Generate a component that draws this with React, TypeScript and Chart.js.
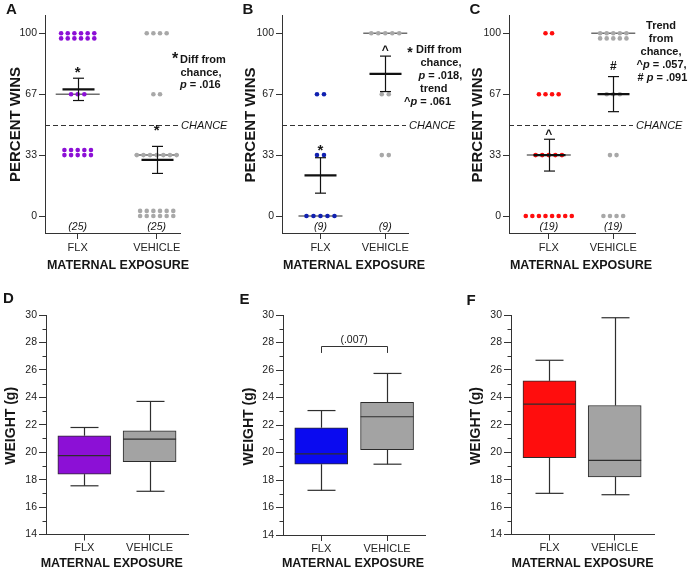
import React, { useEffect, useRef } from 'react';
import { Chart, registerables } from 'chart.js';

Chart.register(...registerables);

const PAGE_W = 688;
const PAGE_H = 570;
const FONT = '"Liberation Sans", Arial, Helvetica, sans-serif';
const INK = '#161616';
const AXIS = '#333333';
const VEH_GRAY_DOT = '#a8a8a8';
const VEH_GRAY_BOX = '#a3a3a3';
const PURPLE = '#8c10d6';
const BLUE_DOT = '#1020b0';
const BLUE_BOX = '#0a0af0';
const RED = '#ff0d0d';

// ---------- shared text ----------
const CATEGORIES = ['FLX', 'VEHICLE'];
const X_TITLE = 'MATERNAL EXPOSURE';
const TOP_Y_TITLE = 'PERCENT WINS';
const BOTTOM_Y_TITLE = 'WEIGHT (g)';

// ---------- top row: percent wins ----------
const OUTCOME_VALUES = [0, 33.33, 66.67, 100];
const OUTCOME_TICK_LABELS = ['0', '33', '67', '100'];
const CHANCE_LEVEL = 50;
const CHANCE_LABEL = 'CHANCE';

// number of animals at each outcome value (0, 33, 67, 100)
const A_FLX_COUNTS = [0, 10, 3, 12];
const A_VEH_COUNTS = [12, 7, 2, 4];
const A_MEANS = [69.3, 30.7];
const A_SEMS = [6.1, 7.4];
const A_MEDIANS = [66.67, 33.33];
const A_N_LABELS = ['(25)', '(25)'];
const A_MARKERS: [number, number, string][] = [[0, 80.8, '*'], [1, 48.9, '*']];

const B_FLX_COUNTS = [5, 2, 2, 0];
const B_VEH_COUNTS = [0, 2, 2, 5];
const B_MEANS = [22.2, 77.8];
const B_SEMS = [9.7, 9.7];
const B_MEDIANS = [0, 100];
const B_N_LABELS = ['(9)', '(9)'];
const B_MARKERS: [number, number, string][] = [[0, 37.9, '*'], [1, 91.9, '^']];

const C_FLX_COUNTS = [8, 5, 4, 2];
const C_VEH_COUNTS = [4, 2, 3, 10];
const C_MEANS = [33.3, 66.7];
const C_SEMS = [8.7, 9.6];
const C_MEDIANS = [33.33, 100];
const C_N_LABELS = ['(19)', '(19)'];
const C_MARKERS: [number, number, string][] = [[0, 46.1, '^'], [1, 82.3, '#']];

type Run = { t: string; i?: boolean };
const A_NOTE: Run[][] = [[{ t: 'Diff from' }], [{ t: 'chance,' }], [{ t: 'p', i: true }, { t: ' = .016' }]];
const B_NOTE: Run[][] = [
  [{ t: 'Diff from' }],
  [{ t: 'chance,' }],
  [{ t: 'p', i: true }, { t: ' = .018,' }],
  [{ t: 'trend' }],
  [{ t: '^' }, { t: 'p', i: true }, { t: ' = .061' }],
];
const C_NOTE: Run[][] = [
  [{ t: 'Trend' }],
  [{ t: 'from' }],
  [{ t: 'chance,' }],
  [{ t: '^' }, { t: 'p', i: true }, { t: ' = .057,' }],
  [{ t: '# ' }, { t: 'p', i: true }, { t: ' = .091' }],
];

// ---------- bottom row: weight box plots [min, q1, median, q3, max] ----------
const D_FLX_BOX = [17.55, 18.4, 19.75, 21.2, 21.8];
const D_VEH_BOX = [17.15, 19.3, 20.95, 21.55, 23.7];
const E_FLX_BOX = [17.25, 19.15, 19.9, 21.8, 23.05];
const E_VEH_BOX = [19.15, 20.2, 22.6, 23.65, 25.75];
const F_FLX_BOX = [17.0, 19.6, 23.5, 25.2, 26.7];
const F_VEH_BOX = [16.9, 18.2, 19.4, 23.4, 29.8];
const WEIGHT_MIN = 14;
const WEIGHT_MAX = 30;
const WEIGHT_STEP = 2;
const E_BRACKET_LABEL = '(.007)';
const E_BRACKET_LEVEL = 27.72;
const E_BRACKET_LEG_END = 27.24;
const E_BRACKET_LABEL_LEVEL = 28.2;

// ---------- helpers ----------
const TOP_Y_RANGE = [-9.3, 110];
const ROW_GAP = 2.8;
const MAX_ROW = 8;
const Y_AXIS_W = 40;
const X_AXIS_H = 28;

function dotsFor(counts: number[], cat: number, step: number) {
  const pts: { x: number; y: number }[] = [];
  counts.forEach((n, k) => {
    if (!n) return;
    const v = OUTCOME_VALUES[k];
    const first = n > MAX_ROW ? Math.ceil(n / 2) : n;
    const rows = n > MAX_ROW ? [first, n - first] : [n];
    rows.forEach((len, r) => {
      const y = v + r * (v > CHANCE_LEVEL ? -ROW_GAP : ROW_GAP);
      for (let j = 0; j < len; j++) pts.push({ x: cat + (j - (len - 1) / 2) * step, y });
    });
  });
  return pts;
}

function line(ctx: CanvasRenderingContext2D, x1: number, y1: number, x2: number, y2: number) {
  ctx.beginPath();
  ctx.moveTo(x1, y1);
  ctx.lineTo(x2, y2);
  ctx.stroke();
}

function drawRuns(ctx: CanvasRenderingContext2D, x: number, y: number, runs: Run[], size: number, align: 'left' | 'center' = 'left') {
  ctx.save();
  ctx.fillStyle = INK;
  ctx.textBaseline = 'middle';
  ctx.textAlign = 'left';
  const fonts = runs.map((r) => `${r.i ? 'italic ' : ''}bold ${size}px ${FONT}`);
  let total = 0;
  runs.forEach((r, k) => {
    ctx.font = fonts[k];
    total += ctx.measureText(r.t).width;
  });
  let cx = align === 'center' ? x - total / 2 : x;
  runs.forEach((r, k) => {
    ctx.font = fonts[k];
    ctx.fillText(r.t, cx, y);
    cx += ctx.measureText(r.t).width;
  });
  ctx.restore();
}

const GLYPH_CENTER: Record<string, number> = { '*': 0.56, '^': 0.52, '#': 0.36 };
function drawGlyph(ctx: CanvasRenderingContext2D, ch: string, xc: number, yc: number, size: number) {
  ctx.save();
  ctx.fillStyle = INK;
  ctx.font = `bold ${size}px ${FONT}`;
  ctx.textAlign = 'center';
  ctx.textBaseline = 'alphabetic';
  ctx.fillText(ch, xc, yc + (GLYPH_CENTER[ch] ?? 0.36) * size);
  ctx.restore();
}

function drawText(ctx: CanvasRenderingContext2D, text: string, x: number, y: number, font: string, align: CanvasTextAlign = 'center', rotate = false) {
  ctx.save();
  ctx.fillStyle = INK;
  ctx.font = font;
  ctx.textAlign = align;
  ctx.textBaseline = 'middle';
  ctx.translate(x, y);
  if (rotate) ctx.rotate(-Math.PI / 2);
  ctx.fillText(text, 0, 0);
  ctx.restore();
}

type Area = [number, number, number, number]; // left, right, top, bottom

function baseScales(xRange: number[], yRange: number[], yTickLen: number, xLabelPad: number) {
  return {
    x: {
      type: 'linear',
      min: xRange[0],
      max: xRange[1],
      offset: false,
      afterFit: (s: any) => {
        s.height = X_AXIS_H;
      },
      afterBuildTicks: (s: any) => {
        s.ticks = CATEGORIES.map((_, i) => ({ value: i }));
      },
      ticks: {
        callback: (v: any) => CATEGORIES[Math.round(Number(v))],
        font: { family: FONT, size: 11 },
        color: '#222',
        padding: xLabelPad,
        maxRotation: 0,
        autoSkip: false,
      },
      grid: { drawOnChartArea: false, tickLength: 6, color: AXIS, offset: false },
      border: { color: AXIS, width: 1 },
    },
    y: {
      type: 'linear',
      min: yRange[0],
      max: yRange[1],
      afterFit: (s: any) => {
        s.width = Y_AXIS_W;
      },
      ticks: {
        font: { family: FONT, size: 10.5 },
        color: '#222',
        padding: 2,
        autoSkip: false,
      },
      grid: { drawOnChartArea: false, tickLength: yTickLen, color: AXIS },
      border: { color: AXIS, width: 1 },
    },
  } as any;
}

function commonOptions(area: Area) {
  return {
    animation: false,
    responsive: false,
    events: [],
    layout: {
      autoPadding: false,
      padding: {
        left: area[0] - Y_AXIS_W,
        right: PAGE_W - area[1],
        top: area[2],
        bottom: PAGE_H - area[3] - X_AXIS_H,
      },
    },
    plugins: { legend: { display: false }, tooltip: { enabled: false }, title: { display: false } },
  } as any;
}

type DotSpec = {
  area: Area;
  xRange: number[];
  dotStep: number;
  counts: number[][];
  colors: string[];
  means: number[];
  sems: number[];
  medians: number[];
  nLabels: string[];
  markers: [number, number, string][];
  note: Run[][];
  notePos: [number, number, 'left' | 'center'][];
  noteStar?: [number, number, number];
  letter: string;
  letterPos: [number, number];
  yTitlePos: [number, number];
  xTitlePos: [number, number];
};

function dotConfig(p: DotSpec) {
  const scales = baseScales(p.xRange, TOP_Y_RANGE, 6, 2.5);
  scales.y.afterBuildTicks = (s: any) => {
    s.ticks = OUTCOME_VALUES.map((v) => ({ value: v }));
  };
  scales.y.ticks.callback = (_v: any, i: number) => OUTCOME_TICK_LABELS[i];
  const plugin = {
    id: 'dotExtras' + p.letter,
    beforeDatasetsDraw(chart: any) {
      const { ctx, chartArea } = chart;
      const x = chart.scales.x;
      const y = chart.scales.y;
      ctx.save();
      ctx.strokeStyle = AXIS;
      ctx.lineWidth = 1;
      ctx.setLineDash([5, 3]);
      const yc = Math.round(y.getPixelForValue(CHANCE_LEVEL)) + 0.5;
      line(ctx, chartArea.left, yc, chartArea.right - 2, yc);
      ctx.setLineDash([]);
      ctx.strokeStyle = '#6e6e6e';
      ctx.lineWidth = 1.5;
      p.medians.forEach((m, i) => {
        const cx = x.getPixelForValue(i);
        const py = y.getPixelForValue(m);
        line(ctx, cx - 22, py, cx + 22, py);
      });
      ctx.restore();
      drawText(ctx, CHANCE_LABEL, chartArea.right + 1, yc, `italic 11px ${FONT}`, 'left');
    },
    afterDatasetsDraw(chart: any) {
      const { ctx, chartArea } = chart;
      const x = chart.scales.x;
      const y = chart.scales.y;
      ctx.save();
      ctx.strokeStyle = '#111';
      p.means.forEach((m, i) => {
        const cx = Math.round(x.getPixelForValue(i)) + 0.5;
        const top = y.getPixelForValue(m + p.sems[i]);
        const bot = y.getPixelForValue(m - p.sems[i]);
        ctx.lineWidth = 1.2;
        line(ctx, cx, top, cx, bot);
        line(ctx, cx - 5.5, top, cx + 5.5, top);
        line(ctx, cx - 5.5, bot, cx + 5.5, bot);
        ctx.lineWidth = 2.2;
        const py = y.getPixelForValue(m);
        line(ctx, cx - 16, py, cx + 16, py);
      });
      ctx.restore();
      p.nLabels.forEach((t, i) => {
        drawText(ctx, t, x.getPixelForValue(i), chartArea.bottom - 5.5, `italic 10.5px ${FONT}`);
      });
      p.markers.forEach(([cat, v, ch]) => {
        drawGlyph(ctx, ch, x.getPixelForValue(cat), y.getPixelForValue(v), ch === '*' ? 15 : 12);
      });
    },
    afterDraw(chart: any) {
      const { ctx } = chart;
      if (p.noteStar) drawGlyph(ctx, '*', p.noteStar[0], p.noteStar[1], p.noteStar[2]);
      p.note.forEach((runs, k) => {
        const [nx, ny, al] = p.notePos[k];
        drawRuns(ctx, nx, ny, runs, 11, al);
      });
      drawText(ctx, p.letter, p.letterPos[0], p.letterPos[1], `bold 15px ${FONT}`, 'left');
      drawText(ctx, TOP_Y_TITLE, p.yTitlePos[0], p.yTitlePos[1], `bold 15px ${FONT}`, 'center', true);
      drawText(ctx, X_TITLE, p.xTitlePos[0], p.xTitlePos[1], `bold 12.5px ${FONT}`);
    },
  };
  return {
    type: 'scatter',
    data: {
      datasets: p.counts.map((c, i) => ({
        data: dotsFor(c, i, p.dotStep),
        pointRadius: 2.3,
        pointHoverRadius: 2.3,
        pointBorderWidth: 0,
        pointBackgroundColor: p.colors[i],
        clip: false,
      })),
    },
    options: { ...commonOptions(p.area), scales },
    plugins: [plugin],
  } as any;
}

type BoxSpec = {
  area: Area;
  xRange: number[];
  boxes: number[][];
  colors: string[];
  letter: string;
  letterPos: [number, number];
  yTitlePos: [number, number];
  xTitlePos: [number, number];
  bracket?: boolean;
};

function boxConfig(p: BoxSpec) {
  const scales = baseScales(p.xRange, [WEIGHT_MIN, WEIGHT_MAX], 7, 1);
  scales.y.ticks.stepSize = WEIGHT_STEP;
  const plugin = {
    id: 'boxExtras' + p.letter,
    afterDatasetsDraw(chart: any) {
      const { ctx, chartArea } = chart;
      const y = chart.scales.y;
      const x = chart.scales.x;
      const meta = chart.getDatasetMeta(0);
      ctx.save();
      ctx.strokeStyle = '#2e2e2e';
      ctx.lineWidth = 1.2;
      p.boxes.forEach((b, i) => {
        const el = meta.data[i];
        const cx = Math.round(el.x) + 0.5;
        const half = el.width / 2;
        const yMin = y.getPixelForValue(b[0]);
        const yQ1 = y.getPixelForValue(b[1]);
        const yMed = y.getPixelForValue(b[2]);
        const yQ3 = y.getPixelForValue(b[3]);
        const yMax = y.getPixelForValue(b[4]);
        line(ctx, cx, yQ3, cx, yMax);
        line(ctx, cx - 14, yMax, cx + 14, yMax);
        line(ctx, cx, yQ1, cx, yMin);
        line(ctx, cx - 14, yMin, cx + 14, yMin);
        line(ctx, el.x - half, yMed, el.x + half, yMed);
      });
      // minor ticks
      ctx.strokeStyle = AXIS;
      ctx.lineWidth = 1;
      const ax = Math.round(chartArea.left) + 0.5;
      for (let v = WEIGHT_MIN + WEIGHT_STEP / 2; v < WEIGHT_MAX; v += WEIGHT_STEP) {
        const py = Math.round(y.getPixelForValue(v)) + 0.5;
        line(ctx, ax - 4, py, ax, py);
      }
      if (p.bracket) {
        ctx.strokeStyle = '#333';
        const x0 = Math.round(x.getPixelForValue(0)) + 0.5;
        const x1 = Math.round(x.getPixelForValue(1)) + 0.5;
        const yb = Math.round(y.getPixelForValue(E_BRACKET_LEVEL)) + 0.5;
        const yl = y.getPixelForValue(E_BRACKET_LEG_END);
        ctx.beginPath();
        ctx.moveTo(x0, yl);
        ctx.lineTo(x0, yb);
        ctx.lineTo(x1, yb);
        ctx.lineTo(x1, yl);
        ctx.stroke();
        drawText(ctx, E_BRACKET_LABEL, x.getPixelForValue(0.5), y.getPixelForValue(E_BRACKET_LABEL_LEVEL), `10.5px ${FONT}`);
      }
      ctx.restore();
    },
    afterDraw(chart: any) {
      const { ctx } = chart;
      drawText(ctx, p.letter, p.letterPos[0], p.letterPos[1], `bold 15px ${FONT}`, 'left');
      drawText(ctx, BOTTOM_Y_TITLE, p.yTitlePos[0], p.yTitlePos[1], `bold 14px ${FONT}`, 'center', true);
      drawText(ctx, X_TITLE, p.xTitlePos[0], p.xTitlePos[1], `bold 12.5px ${FONT}`);
    },
  };
  return {
    type: 'bar',
    data: {
      datasets: [
        {
          data: p.boxes.map((b, i) => ({ x: i, y: [b[1], b[3]] })),
          backgroundColor: p.colors,
          borderColor: '#2b2b2b',
          borderWidth: 1,
          borderSkipped: false,
          barThickness: 53,
          clip: false,
        },
      ],
    },
    options: { ...commonOptions(p.area), scales },
    plugins: [plugin],
  } as any;
}

const CONFIGS = [
  dotConfig({
    area: [45, 180, 15, 233],
    xRange: [-0.414, 1.295],
    dotStep: 0.084,
    counts: [A_FLX_COUNTS, A_VEH_COUNTS],
    colors: [PURPLE, VEH_GRAY_DOT],
    means: A_MEANS,
    sems: A_SEMS,
    medians: A_MEDIANS,
    nLabels: A_N_LABELS,
    markers: A_MARKERS,
    note: A_NOTE,
    notePos: [[180, 60, 'left'], [180.5, 72.7, 'left'], [180, 85, 'left']],
    noteStar: [175, 55.5, 16],
    letter: 'A',
    letterPos: [6, 9.5],
    yTitlePos: [16, 124.5],
    xTitlePos: [118, 266],
  }),
  dotConfig({
    area: [282, 408, 15, 233],
    xRange: [-0.594, 1.351],
    dotStep: 0.108,
    counts: [B_FLX_COUNTS, B_VEH_COUNTS],
    colors: [BLUE_DOT, VEH_GRAY_DOT],
    means: B_MEANS,
    sems: B_SEMS,
    medians: B_MEDIANS,
    nLabels: B_N_LABELS,
    markers: B_MARKERS,
    note: B_NOTE,
    notePos: [[416, 49.5, 'left'], [420.5, 63, 'left'], [418.5, 76, 'left'], [420, 88.5, 'left'], [404, 101.5, 'left']],
    noteStar: [410, 49, 14],
    letter: 'B',
    letterPos: [242.5, 9.5],
    yTitlePos: [250.5, 125],
    xTitlePos: [354, 266],
  }),
  dotConfig({
    area: [509, 635, 15, 233],
    xRange: [-0.617, 1.337],
    dotStep: 0.102,
    counts: [C_FLX_COUNTS, C_VEH_COUNTS],
    colors: [RED, VEH_GRAY_DOT],
    means: C_MEANS,
    sems: C_SEMS,
    medians: C_MEDIANS,
    nLabels: C_N_LABELS,
    markers: C_MARKERS,
    note: C_NOTE,
    notePos: [[661, 26, 'center'], [661, 39.3, 'center'], [661, 52.3, 'center'], [636.5, 65.3, 'left'], [637.5, 78.3, 'left']],
    letter: 'C',
    letterPos: [469.5, 9.5],
    yTitlePos: [477.5, 125],
    xTitlePos: [581, 266],
  }),
  boxConfig({
    area: [46, 188, 315, 534.5],
    xRange: [-0.588, 1.589],
    boxes: [D_FLX_BOX, D_VEH_BOX],
    colors: [PURPLE, VEH_GRAY_BOX],
    letter: 'D',
    letterPos: [3, 298.5],
    yTitlePos: [10.8, 425.8],
    xTitlePos: [111.7, 564],
  }),
  boxConfig({
    area: [283, 425.5, 315, 535],
    xRange: [-0.581, 1.584],
    boxes: [E_FLX_BOX, E_VEH_BOX],
    colors: [BLUE_BOX, VEH_GRAY_BOX],
    letter: 'E',
    letterPos: [239.5, 300],
    yTitlePos: [248.8, 426.5],
    xTitlePos: [353, 564],
    bracket: true,
  }),
  boxConfig({
    area: [511, 654, 315, 534.5],
    xRange: [-0.59, 1.603],
    boxes: [F_FLX_BOX, F_VEH_BOX],
    colors: [RED, VEH_GRAY_BOX],
    letter: 'F',
    letterPos: [466.5, 300.5],
    yTitlePos: [475.8, 426],
    xTitlePos: [582.5, 564],
  }),
];

function Panel({ config }: { config: any }) {
  const ref = useRef<HTMLCanvasElement | null>(null);
  useEffect(() => {
    if (!ref.current) return;
    const chart = new Chart(ref.current, config);
    return () => chart.destroy();
  }, [config]);
  return (
    <canvas
      ref={ref}
      width={PAGE_W}
      height={PAGE_H}
      style={{ position: 'absolute', left: 0, top: 0, width: PAGE_W, height: PAGE_H }}
    />
  );
}

export default function App() {
  return (
    <div style={{ position: 'absolute', left: 0, top: 0, width: PAGE_W, height: PAGE_H, background: '#ffffff', overflow: 'hidden' }}>
      {CONFIGS.map((c, i) => (
        <Panel key={i} config={c} />
      ))}
    </div>
  );
}
